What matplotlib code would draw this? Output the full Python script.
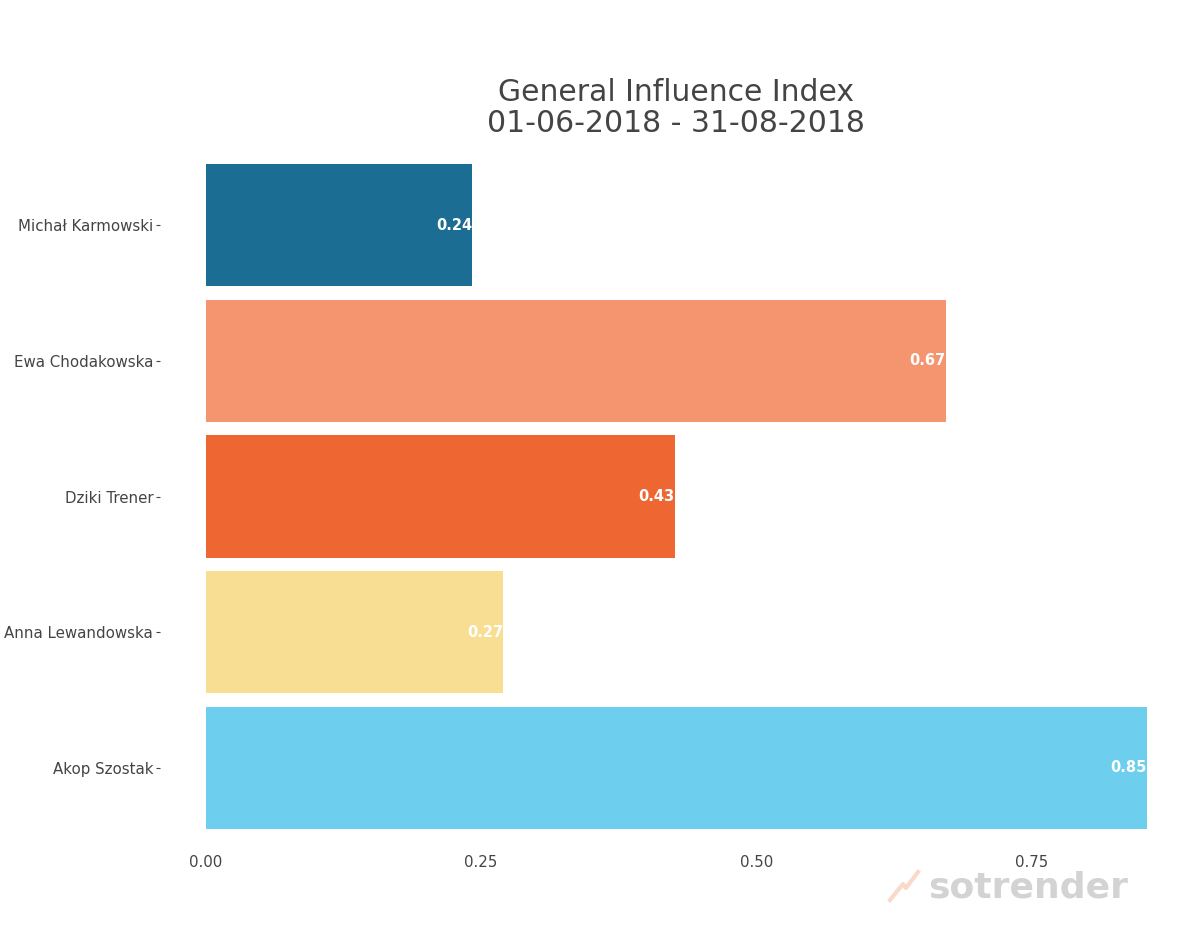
import matplotlib.pyplot as plt
import numpy as np

# data
names = ["Michał Karmowski", "Ewa Chodakowska", "Dziki Trener", "Anna Lewandowska", "Akop Szostak"]
values = [0.242, 0.672, 0.426, 0.270, 0.855]
colors = ["#1c6d93", "#f49570", "#ee6732", "#f8de92", "#6dceed"]
xticks = [0.0, 0.25, 0.5, 0.75]

txt = "#444444"

fig = plt.figure(figsize=(12, 9.5), dpi=100)
ax = fig.add_axes([206 / 1200, 121 / 950, 941 / 1200, 665 / 950])

pos = np.arange(len(names))[::-1]
ax.barh(pos, values, height=0.9, color=colors)
for p, v in zip(pos, values):
    ax.text(v, p, "%.2f" % v, ha="right", va="center", color="white",
            fontsize=10.5, fontweight="bold")

ax.set_ylim(-0.45, len(names) - 0.55)
ax.set_xlim(0, max(values))
ax.set_yticks(pos)
ax.set_yticklabels(names)
ax.set_xticks(xticks)
ax.set_xticklabels(["%.2f" % t for t in xticks])

for s in ax.spines.values():
    s.set_visible(False)
ax.spines["left"].set_position(("outward", 33))
ax.tick_params(axis="y", length=3, width=0.8, color=txt, labelcolor=txt, labelsize=10.8, pad=2)
ax.tick_params(axis="x", length=0, labelcolor=txt, labelsize=10.8, pad=19)

fig.text(676 / 1200, 1 - 108 / 950, "General Influence Index\n01-06-2018 - 31-08-2018",
         ha="center", va="center", fontsize=21.5, color=txt, linespacing=1.1)

# watermark
fig.text(1128 / 1200, 1 - 887 / 950, "sotrender", ha="right", va="center",
         fontsize=26, fontweight="bold", color="#d3d3d3")
fig.lines.append(plt.Line2D([890 / 1200, 903 / 1200, 906 / 1200, 918 / 1200],
                            [1 - 900 / 950, 1 - 884 / 950, 1 - 888 / 950, 1 - 872 / 950],
                            transform=fig.transFigure, color="#f9d9c8", lw=3))

fig.savefig("out.png", dpi=100)
